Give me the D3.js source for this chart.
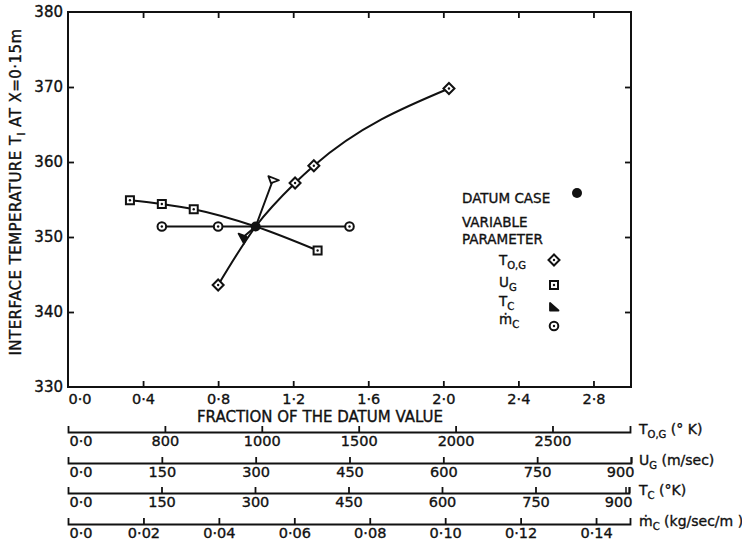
<!DOCTYPE html>
<html>
<head>
<meta charset="utf-8">
<script src="https://cdn.jsdelivr.net/npm/d3@7"></script>
<style>
  body { margin: 0; background: #fff; }
  svg text { font-family: "DejaVu Sans", sans-serif; fill: #111; stroke: #111; stroke-width: 0.35px; }
</style>
</head>
<body>
<div id="chart"></div>
<script>
// ---- data ----
// main plot: fraction of datum value vs interface temperature (K)
let datum = [1.0, 351.4];

let togFrac = [0.8, 1.0, 1.21, 1.31, 2.03];
let togTemp = [343.6, 351.4, 357.2, 359.5, 369.8];

let ugFrac = [0.33, 0.5, 0.67, 1.0, 1.33];
let ugTemp = [354.9, 354.4, 353.7, 351.4, 348.2];

let tcFrac = [0.925, 1.0, 1.095];
let tcTemp = [349.8, 351.4, 357.8];

let mcFrac = [0.5, 0.8, 1.0, 1.5];
let mcTemp = [351.4, 351.4, 351.4, 351.4];

let xTicks = [0, 0.4, 0.8, 1.2, 1.6, 2.0, 2.4, 2.8];
let yTicks = [330, 340, 350, 360, 370, 380];

// secondary scales under the plot
let togTickVals = [0, 500, 1000, 1500, 2000, 2500];
let togTickLabels = ["0·0", "800", "1000", "1500", "2000", "2500"];
let ugTickVals = [0, 150, 300, 450, 600, 750, 900];
let ugTickLabels = ["0·0", "150", "300", "450", "600", "750", "900"];
let tcTickVals = [0, 150, 300, 450, 600, 750, 900];
let tcTickLabels = ["0·0", "150", "300", "450", "600", "750", "900"];
let mcTickVals = [0, 0.02, 0.04, 0.06, 0.08, 0.10, 0.12, 0.14];
let mcTickLabels = ["0·0", "0·02", "0·04", "0·06", "0·08", "0·10", "0·12", "0·14"];

(function(){
  let W = 742, H = 544;
  let L = 68, R = 631, T = 12, B = 387;

  let svg = d3.select("#chart").append("svg")
      .attr("width", W).attr("height", H);

  let x = d3.scaleLinear().domain([0, 3.0]).range([L, R]);
  let y = d3.scaleLinear().domain([330, 380]).range([B, T]);

  let dotFmt = d => d == 0 ? "0·0" : d3.format(".1f")(d).replace(".", "·");

  // frame
  svg.append("rect")
    .attr("x", L).attr("y", T).attr("width", R - L).attr("height", B - T)
    .attr("fill", "none").attr("stroke", "#111").attr("stroke-width", 2);

  function styleAxis(g, fs){
    g.select(".domain").remove();
    g.selectAll(".tick line").attr("stroke", "#111").attr("stroke-width", 1.8);
    g.selectAll("text").attr("font-family", "DejaVu Sans, sans-serif")
      .attr("font-size", fs).attr("fill", "#111");
  }

  // bottom axis
  let gx = svg.append("g").attr("transform", "translate(0," + B + ")")
    .call(d3.axisBottom(x).tickValues(xTicks).tickFormat(dotFmt)
          .tickSizeInner(-6).tickSizeOuter(0).tickPadding(7));
  styleAxis(gx, 14.5);
  gx.selectAll(".tick").filter(d => d == 0).select("line").remove();
  gx.selectAll(".tick").filter(d => d == 0).select("text")
    .attr("text-anchor", "start").attr("x", 0);

  // top axis (ticks only)
  let gt = svg.append("g").attr("transform", "translate(0," + T + ")")
    .call(d3.axisTop(x).tickValues(xTicks.slice(1)).tickFormat("")
          .tickSizeInner(-6).tickSizeOuter(0));
  styleAxis(gt, 14);

  // left axis
  let gy = svg.append("g").attr("transform", "translate(" + L + ",0)")
    .call(d3.axisLeft(y).tickValues(yTicks).tickFormat(d3.format("d"))
          .tickSizeInner(-6).tickSizeOuter(0).tickPadding(5));
  styleAxis(gy, 15);
  gy.selectAll(".tick").filter(d => d == 330 || d == 380).select("line").remove();
  gy.selectAll(".tick text").attr("x", -5);

  // right axis (ticks only)
  let gr = svg.append("g").attr("transform", "translate(" + R + ",0)")
    .call(d3.axisRight(y).tickValues(yTicks.slice(1, -1)).tickFormat("")
          .tickSizeInner(-6).tickSizeOuter(0));
  styleAxis(gr, 15);

  // axis titles
  svg.append("text")
    .attr("x", 320).attr("y", 422)
    .attr("text-anchor", "middle").attr("font-size", 15)
    .text("FRACTION OF THE DATUM VALUE");

  let yl = svg.append("text")
    .attr("transform", "translate(21,192) rotate(-90)")
    .attr("text-anchor", "middle").attr("font-size", 15)
    .attr("letter-spacing", 0.45);
  yl.append("tspan").text("INTERFACE TEMPERATURE T");
  yl.append("tspan").attr("font-size", 10).attr("dy", 4).text("I");
  yl.append("tspan").attr("dy", -4).text("  AT  X=0·15m");

  // ---- series ----
  let line = d3.line().x(d => x(d[0])).y(d => y(d[1]));
  let zip = (a, b) => a.map((v, i) => [v, b[i]]);

  let series = [
    {key: "tog", pts: zip(togFrac, togTemp), curve: d3.curveMonotoneX},
    {key: "ug",  pts: zip(ugFrac, ugTemp),  curve: d3.curveMonotoneX},
    {key: "tc",  pts: zip(tcFrac, tcTemp),  curve: d3.curveLinear},
    {key: "mc",  pts: zip(mcFrac, mcTemp),  curve: d3.curveLinear}
  ];

  svg.append("g").selectAll("path.series")
    .data(series).enter().append("path")
    .classed("series", true)
    .attr("d", s => line.curve(s.curve)(s.pts))
    .attr("fill", "none").attr("stroke", "#111").attr("stroke-width", 2);

  // marker drawing
  function marker(g, kind, cx, cy, open){
    let m = g.append("g").attr("transform", "translate(" + cx + "," + cy + ")");
    if(kind == "tog"){
      m.append("path").attr("d", "M0,-5.5L5.5,0L0,5.5L-5.5,0Z")
        .attr("fill", "#fff").attr("stroke", "#111").attr("stroke-width", 2);
      m.append("circle").attr("r", 1.2).attr("fill", "#111");
    } else if(kind == "ug"){
      m.append("rect").attr("x", -4).attr("y", -4).attr("width", 8).attr("height", 8)
        .attr("fill", "#fff").attr("stroke", "#111").attr("stroke-width", 2);
      m.append("circle").attr("r", 1.2).attr("fill", "#111");
    } else if(kind == "tc"){
      m.append("path").attr("d", "M-4,-4L-4,3.5L4.5,3.5Z")
        .attr("fill", open ? "#fff" : "#111").attr("stroke", "#111")
        .attr("stroke-width", 1.8).attr("stroke-linejoin", "round");
    } else if(kind == "mc"){
      m.append("circle").attr("r", 4.3)
        .attr("fill", "#fff").attr("stroke", "#111").attr("stroke-width", 2);
      m.append("circle").attr("r", 1.2).attr("fill", "#111");
    } else if(kind == "datum"){
      m.append("circle").attr("r", 5).attr("fill", "#111");
    }
    return m;
  }

  let mg = svg.append("g");
  series.forEach(s => {
    s.pts.forEach(p => {
      if(p[0] == datum[0] && p[1] == datum[1]) return;
      if(s.key == "tc"){
        let up = p[1] > datum[1];
        let m = marker(mg, "tc", x(p[0]), y(p[1]), up);
        m.attr("transform", m.attr("transform") + (up ? " rotate(-20)" : " rotate(200)"));
      } else {
        marker(mg, s.key, x(p[0]), y(p[1]));
      }
    });
  });
  marker(mg, "datum", x(datum[0]), y(datum[1]));

  // ---- legend ----
  let lg = svg.append("g").attr("font-size", 13.5);
  lg.append("text").attr("x", 462).attr("y", 203).text("DATUM CASE");
  marker(lg, "datum", 577, 193);
  lg.append("text").attr("x", 462).attr("y", 227).text("VARIABLE");
  lg.append("text").attr("x", 462).attr("y", 244).text("PARAMETER");

  function subLabel(g, xx, yy, main, sub){
    let t = g.append("text").attr("x", xx).attr("y", yy);
    t.append("tspan").text(main);
    t.append("tspan").attr("font-size", 10).attr("dy", 4).text(sub);
    return t;
  }
  subLabel(lg, 499, 265, "T", "O,G");
  marker(lg, "tog", 554, 260);
  subLabel(lg, 499, 287, "U", "G");
  marker(lg, "ug", 554, 285);
  subLabel(lg, 499, 306, "T", "C");
  marker(lg, "tc", 554, 307);
  subLabel(lg, 499, 324, "ṁ", "C");
  marker(lg, "mc", 554, 326);

  // ---- secondary scales ----
  let extras = [
    {y: 432, scale: d3.scaleLinear().domain([0, 2900]).range([L, 630]),
     vals: togTickVals, labels: togTickLabels, main: "T", sub: "O,G", unit: "  (° K)"},
    {y: 463, scale: d3.scaleLinear().domain([0, 900]).range([L, 631]),
     vals: ugTickVals, labels: ugTickLabels, main: "U", sub: "G", unit: "  (m/sec)"},
    {y: 493, scale: d3.scaleLinear().domain([0, 900]).range([L, 629]),
     vals: tcTickVals, labels: tcTickLabels, main: "T", sub: "C", unit: "  (°K)"},
    {y: 524, scale: d3.scaleLinear().domain([0, 0.149]).range([L, 630]),
     vals: mcTickVals, labels: mcTickLabels, main: "ṁ", sub: "C", unit: " (kg/sec/m )"}
  ];

  extras.forEach((e, k) => {
    let g = svg.append("g").attr("transform", "translate(0," + e.y + ")")
      .call(d3.axisBottom(e.scale).tickValues(e.vals)
            .tickFormat((d, i) => e.labels[i])
            .tickSizeInner(-6).tickSizeOuter(-6).tickPadding(4));
    g.select(".domain").attr("stroke", "#111").attr("stroke-width", 1.8);
    g.selectAll(".tick line").attr("stroke", "#111").attr("stroke-width", 1.8);
    g.selectAll("text").attr("font-family", "DejaVu Sans, sans-serif")
      .attr("font-size", 14.5).attr("fill", "#111");
    g.selectAll(".tick").filter(d => d == 0).select("line").remove();
    g.selectAll(".tick").filter(d => d == 0).select("text")
      .attr("text-anchor", "start").attr("x", 1);
    let last = e.vals[e.vals.length - 1];
    if(e.scale(last) >= e.scale.range()[1] - 1){
      g.selectAll(".tick").filter(d => d == last).select("text")
        .attr("text-anchor", "end").attr("x", 3);
    }
    if(k == 2){
      let xe = e.scale.range()[1] - 3;
      g.append("line").attr("x1", xe).attr("x2", xe).attr("y1", 0).attr("y2", -6)
        .attr("stroke", "#111").attr("stroke-width", 1.5);
    }
    let t = svg.append("text").attr("x", 639).attr("y", e.y + 2).attr("font-size", 14);
    t.append("tspan").text(e.main);
    t.append("tspan").attr("font-size", 10).attr("dy", 4).text(e.sub);
    t.append("tspan").attr("dy", -4).text(e.unit);
  });
})();
</script>
</body>
</html>
